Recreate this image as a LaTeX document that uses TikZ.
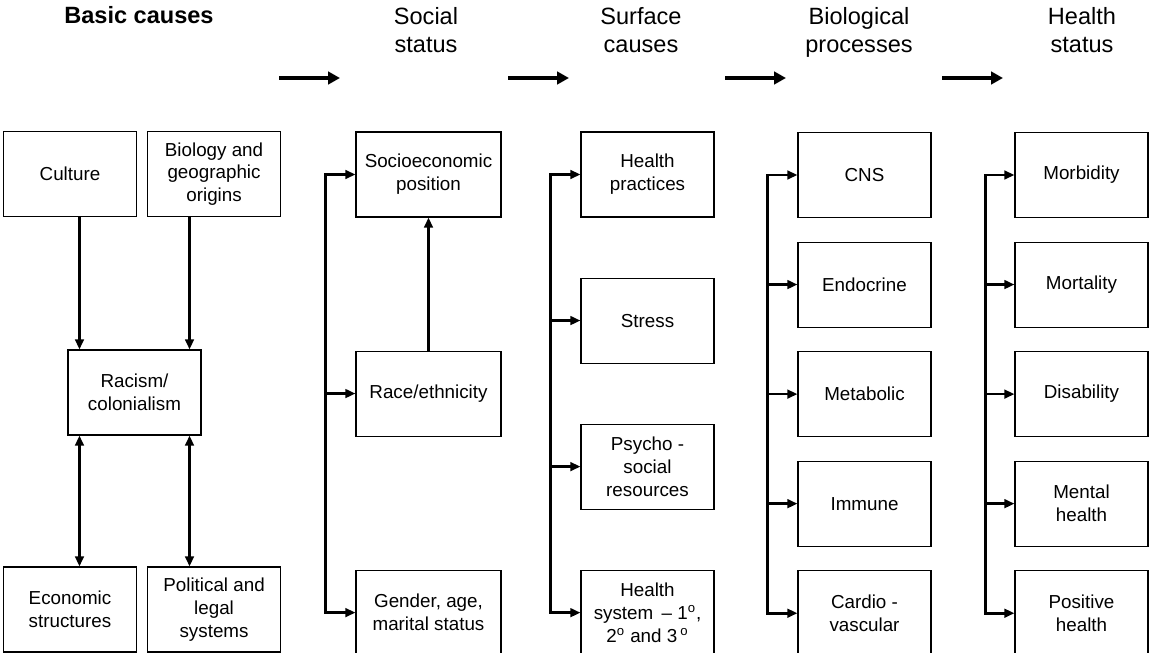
\documentclass[tikz,border=0pt]{standalone}
\usepackage{fontspec}
\setmainfont{Liberation Sans}
\usepackage{tikz}
\usetikzlibrary{arrows.meta,positioning}

\begin{document}
\begin{tikzpicture}[
    box/.style={rectangle, draw, line width=0.6pt, inner sep=0pt, minimum width=2.66cm, minimum height=1.7cm, align=center, font=\fontsize{10.7}{13}\selectfont},
    widebox/.style={box, minimum width=2.9cm},
    head/.style={anchor=north, inner sep=0pt, align=center, font=\fontsize{13.4}{15.9}\selectfont},
    arrow/.style={->, >={Triangle[length=0.2cm, width=0.17cm]}, line width=1.5pt},
    bigarrow/.style={->, >={Triangle[length=0.24cm, width=0.25cm]}, line width=2.2pt}
]
\useasboundingbox (0,0) rectangle (22.98,-13.06);

% headings
\node[head] (hbasic) at (2.78,-0.12) {\textbf{Basic causes}};
\node[head] (hsocial) at (8.52,-0.14) {Social\\status};
\node[head] (hsurface) at (12.82,-0.14) {Surface\\causes};
\node[head] (hbio) at (17.18,-0.14) {Biological\\processes};
\node[head] (hhealth) at (21.64,-0.14) {Health\\status};

\foreach \a/\b [count=\i] in {5.58/6.80, 10.16/11.38, 14.50/15.72, 18.84/20.06} {
    \coordinate (h\i s) at (\a,-1.56);
    \coordinate (h\i e) at (\b,-1.56);
    \draw[bigarrow] (h\i s) -- (h\i e);
}

% basic causes
\node[box] (culture) at (1.40,-3.48) {Culture};
\node[box, right=0.2cm of culture] (biology) {Biology and\\geographic\\origins};
\node[box] (racism) at (2.69,-7.85) {Racism/\\colonialism};
\node[box] (economic) at (1.40,-12.19) {Economic\\structures};
\node[box, right=0.2cm of economic] (political) {Political and\\legal\\systems};

% social status
\node[widebox] (socio) at (8.57,-3.49) {Socioeconomic\\position};
\node[widebox, below=2.66cm of socio] (race) {Race/ethnicity};
\node[widebox, below=2.66cm of race] (gender) {Gender, age,\\marital status};

% surface causes
\node[box] (practices) at (12.95,-3.49) {Health\\practices};
\node[box, below=1.2cm of practices] (stress) {Stress};
\node[box, below=1.2cm of stress] (psycho) {Psycho -\\social\\resources};
\node[box, below=1.2cm of psycho] (hsystem) {Health\\system \,-- 1\textsuperscript{o},\\2\textsuperscript{o} and 3\,\textsuperscript{o}};

% biological processes
\node[box] (cns) at (17.29,-3.50) {CNS};
\node[box, below=0.47cm of cns] (endocrine) {Endocrine};
\node[box, below=0.47cm of endocrine] (metabolic) {Metabolic};
\node[box, below=0.47cm of metabolic] (immune) {Immune};
\node[box, below=0.47cm of immune] (cardio) {Cardio -\\vascular};

% health status
\node[box] (morbidity) at (21.63,-3.50) {Morbidity};
\node[box, below=0.47cm of morbidity] (mortality) {Mortality};
\node[box, below=0.47cm of mortality] (disability) {Disability};
\node[box, below=0.47cm of disability] (mental) {Mental\\health};
\node[box, below=0.47cm of mental] (positive) {Positive\\health};

% basic causes links
\draw[arrow] ([xshift=0.24cm]racism.north west |- culture.south) -- ([xshift=0.24cm]racism.north west);
\draw[arrow] ([xshift=-0.24cm]racism.north east |- biology.south) -- ([xshift=-0.24cm]racism.north east);
\draw[arrow, <->] ([xshift=0.24cm]racism.south west) -- ([xshift=0.24cm]racism.south west |- economic.north);
\draw[arrow, <->] ([xshift=-0.24cm]racism.south east) -- ([xshift=-0.24cm]racism.south east |- political.north);

% social status links
\draw[arrow, <->] (socio.west) -- ++(-0.6,0) |- (gender.west);
\draw[arrow] ([xshift=-0.6cm]race.west) -- (race.west);
\draw[arrow] (race.north) -- (socio.south);

% surface causes links
\draw[arrow, <->] (practices.west) -- ++(-0.6,0) |- (hsystem.west);
\draw[arrow] ([xshift=-0.6cm]stress.west) -- (stress.west);
\draw[arrow] ([xshift=-0.6cm]psycho.west) -- (psycho.west);

% biological links
\draw[arrow, <->] (cns.west) -- ++(-0.6,0) |- (cardio.west);
\draw[arrow] ([xshift=-0.6cm]endocrine.west) -- (endocrine.west);
\draw[arrow] ([xshift=-0.6cm]metabolic.west) -- (metabolic.west);
\draw[arrow] ([xshift=-0.6cm]immune.west) -- (immune.west);

% health status links
\draw[arrow, <->] (morbidity.west) -- ++(-0.58,0) |- (positive.west);
\draw[arrow] ([xshift=-0.58cm]mortality.west) -- (mortality.west);
\draw[arrow] ([xshift=-0.58cm]disability.west) -- (disability.west);
\draw[arrow] ([xshift=-0.58cm]mental.west) -- (mental.west);

\end{tikzpicture}
\end{document}
